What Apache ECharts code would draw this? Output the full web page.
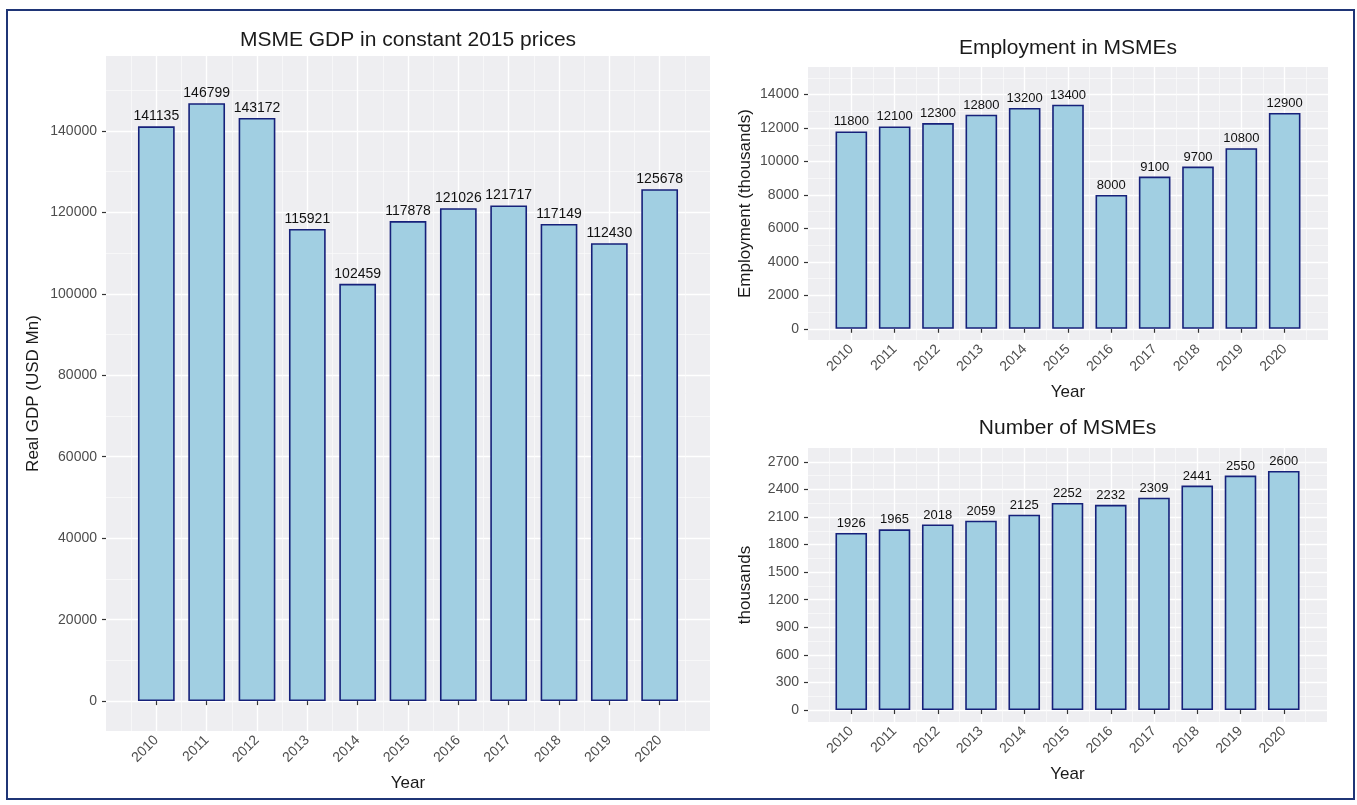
<!DOCTYPE html>
<html>
<head>
<meta charset="utf-8">
<title>MSME indicators 2010-2020</title>
<script src="https://cdn.jsdelivr.net/npm/echarts@6/dist/echarts.min.js"></script>
<style>
  html, body { margin: 0; padding: 0; background: #ffffff; }
  #chart { width: 1357px; height: 805px; }
</style>
</head>
<body>
<div id="chart"></div>
<script>
// ---- data ----
const years = [2010, 2011, 2012, 2013, 2014, 2015, 2016, 2017, 2018, 2019, 2020];
const gdpValues = [141135, 146799, 143172, 115921, 102459, 117878, 121026, 121717, 117149, 112430, 125678];
const employmentValues = [11800, 12100, 12300, 12800, 13200, 13400, 8000, 9100, 9700, 10800, 12900];
const firmCounts = [1926, 1965, 2018, 2059, 2125, 2252, 2232, 2309, 2441, 2550, 2600];

const gdpTicks = [0, 20000, 40000, 60000, 80000, 100000, 120000, 140000];
const employmentTicks = [0, 2000, 4000, 6000, 8000, 10000, 12000, 14000];
const firmTicks = [0, 300, 600, 900, 1200, 1500, 1800, 2100, 2400, 2700];

// ---- styling ----
const FONT = '"Liberation Sans", Arial, Helvetica, sans-serif';
const PANEL_BG = '#eeeef1';
const BAR_FILL = '#a1cfe2';
const BAR_EDGE = '#16217a';
const TICK_TEXT = '#4d4d4d';
const TITLE_TEXT = '#1a1a1a';

// minor grid values sit halfway between the major breaks
function midpoints(ticks, lo, hi) {
  const step = ticks[1] - ticks[0];
  const out = [];
  for (let v = ticks[0] - step / 2; v <= ticks[ticks.length - 1] + step; v += step) {
    if (v > lo && v < hi) out.push(v);
  }
  return out;
}

const panels = [
  { grid: { left: 106, top: 56, width: 604, height: 675 },
    values: gdpValues, ticks: gdpTicks, min: -7340, max: 158400,
    yName: 'Real GDP (USD Mn)', yNameGap: 64, xNameGap: 44, labelSize: 14,
    title: 'MSME GDP in constant 2015 prices', titleY: 40 },
  { grid: { left: 808, top: 67, width: 520, height: 273 },
    values: employmentValues, ticks: employmentTicks, min: -670, max: 15650,
    yName: 'Employment (thousands)', yNameGap: 54, xNameGap: 44, labelSize: 13,
    title: 'Employment in MSMEs', titleY: 48 },
  { grid: { left: 808, top: 448, width: 519, height: 274 },
    values: firmCounts, ticks: firmTicks, min: -130, max: 2850,
    yName: 'thousands', yNameGap: 54, xNameGap: 44, labelSize: 13,
    title: 'Number of MSMEs', titleY: 428 }
];

const grids = [], xAxes = [], yAxes = [], series = [], graphics = [];

panels.forEach((p, i) => {
  grids.push(Object.assign({ show: true, backgroundColor: PANEL_BG, borderWidth: 0 }, p.grid));

  // year axis: one unit of padding either side of the bars
  xAxes.push({
    type: 'value', gridIndex: i, min: years[0] - 1, max: years[years.length - 1] + 1, interval: 1,
    name: 'Year', nameLocation: 'middle', nameGap: p.xNameGap,
    nameTextStyle: { fontFamily: FONT, fontSize: 17, color: TITLE_TEXT },
    axisLine: { show: false },
    axisTick: { show: true, length: 4, customValues: years, lineStyle: { color: '#333333', width: 1.2 } },
    axisLabel: { show: true, customValues: years, rotate: 45, margin: 7,
                 fontFamily: FONT, fontSize: 14, color: TICK_TEXT, formatter: v => String(v) },
    splitLine: { show: true, lineStyle: { color: '#ffffff', width: 1.4 } },
    minorTick: { show: false, splitNumber: 2 },
    minorSplitLine: { show: true, lineStyle: { color: '#fafafb', width: 0.7 } }
  });

  // value axis with major breaks
  yAxes.push({
    type: 'value', gridIndex: i, min: p.min, max: p.max,
    name: p.yName, nameLocation: 'middle', nameGap: p.yNameGap, nameRotate: 90,
    nameTextStyle: { fontFamily: FONT, fontSize: 17, color: TITLE_TEXT },
    axisLine: { show: false },
    axisTick: { show: true, length: 4, customValues: p.ticks, lineStyle: { color: '#333333', width: 1.2 } },
    axisLabel: { show: true, customValues: p.ticks, margin: 9,
                 fontFamily: FONT, fontSize: 14, color: TICK_TEXT, formatter: v => String(v) },
    splitLine: { show: true, lineStyle: { color: '#ffffff', width: 1.4 } }
  });
  // overlay axis carrying the minor horizontal grid
  yAxes.push({
    type: 'value', gridIndex: i, min: p.min, max: p.max, position: 'left',
    axisLine: { show: false },
    axisTick: { show: false, customValues: midpoints(p.ticks, p.min, p.max) },
    axisLabel: { show: false },
    splitLine: { show: true, lineStyle: { color: '#fafafb', width: 0.7 } }
  });

  series.push({
    type: 'bar', xAxisIndex: i, yAxisIndex: i * 2, barWidth: '73%',
    data: years.map((y, k) => [y, p.values[k]]),
    itemStyle: { color: BAR_FILL, borderColor: BAR_EDGE, borderWidth: 1.6 },
    label: { show: true, position: 'top', distance: 3, fontFamily: FONT, fontSize: p.labelSize,
             color: '#111111', formatter: d => String(d.value[1]) },
    emphasis: { disabled: true },
    z: 3
  });

  graphics.push({
    type: 'text', x: p.grid.left + p.grid.width / 2, y: p.titleY,
    style: { text: p.title, fontFamily: FONT, fontSize: 21, fill: TITLE_TEXT,
             textAlign: 'center', textVerticalAlign: 'middle' }
  });
});

// outer frame
graphics.push({
  type: 'rect', shape: { x: 7, y: 10, width: 1347, height: 789 },
  style: { fill: 'none', stroke: '#1f3576', lineWidth: 2 }, z: 10
});

const chart = echarts.init(document.getElementById('chart'), null, { renderer: 'canvas' });
chart.setOption({
  backgroundColor: '#ffffff',
  animation: false,
  grid: grids,
  xAxis: xAxes,
  yAxis: yAxes,
  series: series,
  graphic: graphics
});
</script>
</body>
</html>
